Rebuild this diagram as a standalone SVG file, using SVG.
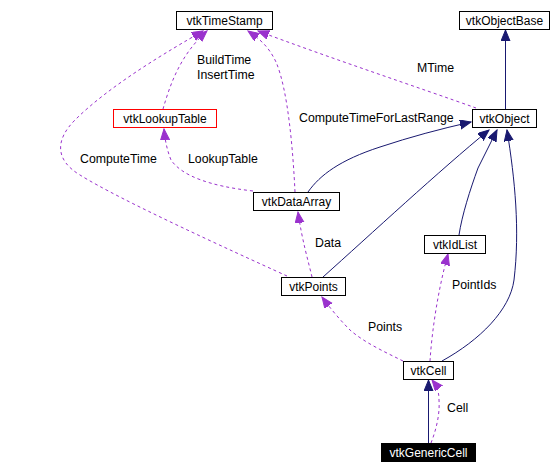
<svg xmlns="http://www.w3.org/2000/svg" width="552" height="474" viewBox="0 0 552 474">
<style>
.box{fill:#fff;stroke:#000;stroke-width:1}
.lbl{font-family:"Liberation Sans",Arial,sans-serif;font-size:12.3px;fill:#000}
.nt{font-family:"Liberation Sans",Arial,sans-serif;font-size:12px;fill:#000;text-anchor:middle}
.inh{fill:none;stroke:#191970;stroke-width:1;marker-end:url(#an)}
.use{fill:none;stroke:#9a32cd;stroke-width:1;stroke-dasharray:3,3;marker-end:url(#ap)}
</style>
<defs>
<marker id="an" markerUnits="userSpaceOnUse" markerWidth="12" markerHeight="10" refX="11" refY="4.5" orient="auto"><path d="M0,0 L11,4.5 L0,9 z" fill="#191970" stroke="#191970"/></marker>
<marker id="ap" markerUnits="userSpaceOnUse" markerWidth="12" markerHeight="10" refX="11" refY="4.5" orient="auto"><path d="M0,0 L11,4.5 L0,9 z" fill="#9a32cd" stroke="#9a32cd"/></marker>
</defs>
<rect width="552" height="474" fill="#fff"/>
<g id="connectors">
<path class="inh" d="M505.5,109 L505.5,30"/>
<path class="use" d="M476,108 C420,88 330,58 258,31"/>
<path class="inh" d="M308,192 C320,175 340,160 380,147 C410,137 440,129 471,122"/>
<path class="inh" d="M323,277 C370,235 440,170 489,130"/>
<path class="inh" d="M459,235 C462,215 470,190 478,168 L497,130"/>
<path class="inh" d="M442,361 C480,340 510,310 514,280 C520,230 515,180 507,130"/>
<path class="use" d="M163,109 C170,85 180,55 207,31"/>
<path class="use" d="M287,276 C230,250 120,200 80,175 C55,160 55,140 75,120 C110,85 170,50 203,31"/>
<path class="use" d="M253,191 C210,186 182,176 171,160 C167,150 165,140 164,129"/>
<path class="use" d="M295,192 C293,150 288,90 276,62 C268,45 258,38 248,31"/>
<path class="use" d="M312,277 C308,260 302,240 298,212"/>
<path class="use" d="M403,361 C385,352 365,343 350,330 C340,320 330,308 322,297"/>
<path class="use" d="M430,361 C432,330 438,290 448,254"/>
<path class="inh" d="M428.5,443 L428.5,380"/>
<path class="use" d="M431,443 C436,430 440,415 439,400 C439,390 436,385 432,380"/>
</g>
<g id="labels">
<text class="lbl" x="197" y="64">BuildTime</text>
<text class="lbl" x="197" y="79">InsertTime</text>
<text class="lbl" x="417" y="72">MTime</text>
<text class="lbl" x="299" y="122">ComputeTimeForLastRange</text>
<text class="lbl" x="80" y="163">ComputeTime</text>
<text class="lbl" x="188" y="163">LookupTable</text>
<text class="lbl" x="315" y="247">Data</text>
<text class="lbl" x="452" y="289">PointIds</text>
<text class="lbl" x="368" y="331">Points</text>
<text class="lbl" x="447" y="412">Cell</text>
</g>
<g id="vtkTimeStamp"><rect class="box" x="176.5" y="11.5" width="96" height="18"/><text class="nt" x="224.5" y="25">vtkTimeStamp</text></g>
<g id="vtkObjectBase"><rect class="box" x="459.5" y="11.5" width="90" height="18"/><text class="nt" x="504.5" y="25">vtkObjectBase</text></g>
<g id="vtkObject"><rect class="box" x="472.5" y="109.5" width="64" height="18"/><text class="nt" x="504.5" y="123">vtkObject</text></g>
<g id="vtkLookupTable"><rect class="box" x="113.5" y="109.5" width="103" height="18" style="stroke:#ff0000"/><text class="nt" x="165" y="123">vtkLookupTable</text></g>
<g id="vtkDataArray"><rect class="box" x="253.5" y="192.5" width="86" height="18"/><text class="nt" x="296.5" y="206">vtkDataArray</text></g>
<g id="vtkPoints"><rect class="box" x="281.5" y="277.5" width="64" height="18"/><text class="nt" x="313.5" y="291">vtkPoints</text></g>
<g id="vtkIdList"><rect class="box" x="424.5" y="235.5" width="61" height="18"/><text class="nt" x="455" y="249">vtkIdList</text></g>
<g id="vtkCell"><rect class="box" x="403.5" y="361.5" width="50" height="18"/><text class="nt" x="428.5" y="375">vtkCell</text></g>
<g id="vtkGenericCell"><rect x="381" y="443" width="95" height="19" fill="#000"/><text class="nt" x="428.5" y="457" style="fill:#fff">vtkGenericCell</text></g>
</svg>
